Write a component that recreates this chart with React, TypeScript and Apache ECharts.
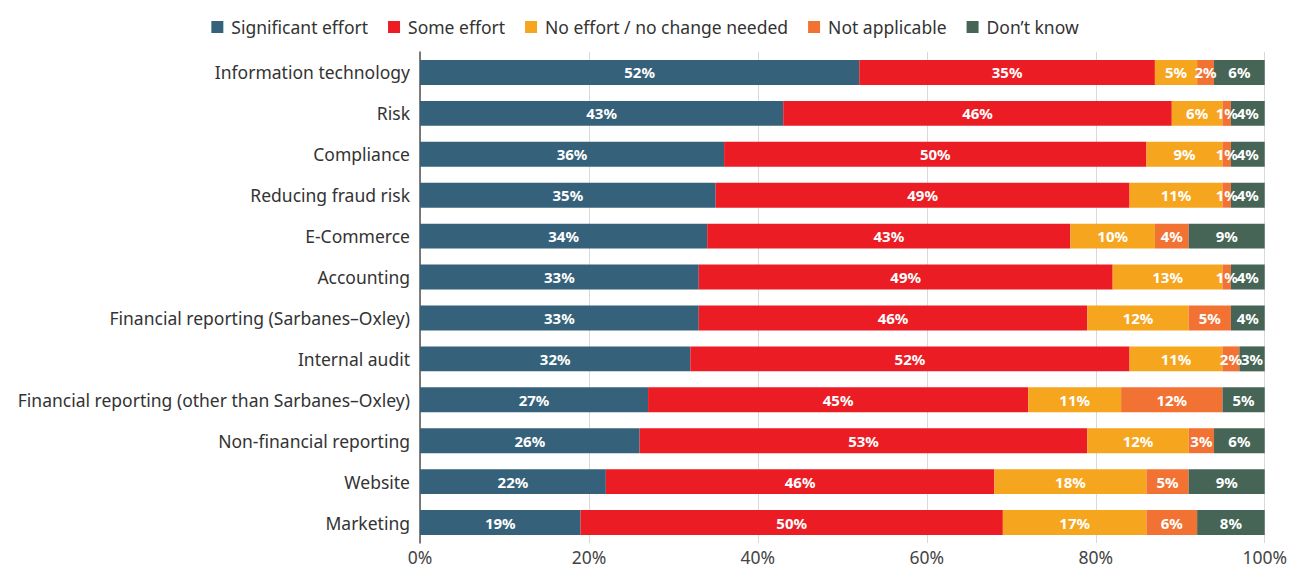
import React, { useEffect, useRef } from "react";
import * as echarts from "echarts";

const categories = [
  "Information technology",
  "Risk",
  "Compliance",
  "Reducing fraud risk",
  "E-Commerce",
  "Accounting",
  "Financial reporting (Sarbanes–Oxley)",
  "Internal audit",
  "Financial reporting (other than Sarbanes–Oxley)",
  "Non-financial reporting",
  "Website",
  "Marketing",
];

const seriesNames = [
  "Significant effort",
  "Some effort",
  "No effort / no change needed",
  "Not applicable",
  "Don’t know",
];

const significant = [52, 43, 36, 35, 34, 33, 33, 32, 27, 26, 22, 19];
const some = [35, 46, 50, 49, 43, 49, 46, 52, 45, 53, 46, 50];
const noEffort = [5, 6, 9, 11, 10, 13, 12, 11, 11, 12, 18, 17];
const notApplicable = [2, 1, 1, 1, 4, 1, 5, 2, 12, 3, 5, 6];
const dontKnow = [6, 4, 4, 4, 9, 4, 4, 3, 5, 6, 9, 8];

const colors = ["#35627a", "#ec1c24", "#f6a51f", "#f27234", "#466557"];

const xTicks = [0, 20, 40, 60, 80, 100];

export default function App() {
  const ref = useRef<HTMLDivElement>(null);
  useEffect(() => {
    if (!ref.current) return;
    const chart = echarts.init(ref.current, undefined, { renderer: "svg" });
    const data = [significant, some, noEffort, notApplicable, dontKnow];
    const font = "'Noto Sans', 'Open Sans', sans-serif";
    chart.setOption({
      animation: false,
      textStyle: { fontFamily: font },
      legend: {
        top: 13,
        left: "center",
        itemWidth: 12,
        itemHeight: 12,
        itemGap: 20,
        icon: "rect",
        textStyle: { fontSize: 17.5, color: "#333", fontFamily: font, padding: [0, 0, 0, 3] },
        data: seriesNames,
      },
      grid: { left: 420, right: 22, top: 52, bottom: 25, containLabel: false },
      xAxis: {
        type: "value",
        min: xTicks[0],
        max: xTicks[xTicks.length - 1],
        interval: 20,
        axisLabel: {
          formatter: "{value}%",
          fontSize: 17.5,
          color: "#444",
          margin: 5,
          fontFamily: font,
        },
        axisLine: { show: false },
        axisTick: { show: false },
        splitLine: { show: true, lineStyle: { color: "#d9d9d9", width: 1 } },
      },
      yAxis: {
        type: "category",
        inverse: true,
        data: categories,
        axisLine: { show: true, lineStyle: { color: "#555", width: 1.5 } },
        axisTick: { show: false },
        axisLabel: { fontSize: 17.5, color: "#333", margin: 10, fontFamily: font },
      },
      series: seriesNames.map((name, i) => ({
        name,
        type: "bar",
        stack: "total",
        barCategoryGap: "39%",
        itemStyle: { color: colors[i] },
        label: {
          show: true,
          position: "inside",
          formatter: "{c}%",
          color: "#fff",
          fontSize: 15,
          fontWeight: "bold",
          fontFamily: font,
        },
        data: data[i],
      })),
    });
    return () => chart.dispose();
  }, []);
  return (
    <div
      ref={ref}
      style={{ position: "fixed", left: 0, top: 0, width: 1290, height: 568, background: "#fff" }}
    />
  );
}
